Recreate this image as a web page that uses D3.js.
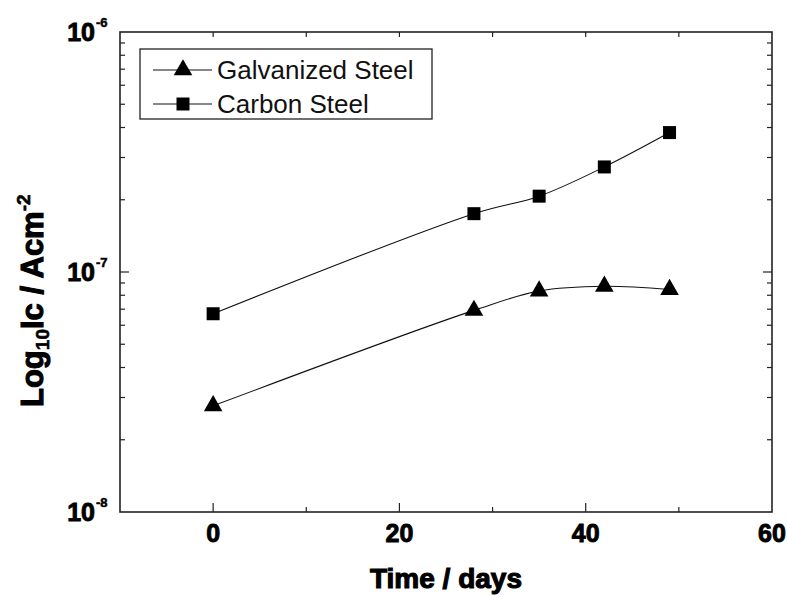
<!DOCTYPE html>
<html>
<head>
<meta charset="utf-8">
<script src="https://cdn.jsdelivr.net/npm/d3@7"></script>
<style>
  html, body { margin: 0; padding: 0; background: #fff; }
  svg { display: block; }
</style>
</head>
<body>
<svg id="chart" width="788" height="596"></svg>
<script>
// ---- data ----
const days = [0, 28, 35, 42, 49];
const galvanized = [2.77e-8, 6.92e-8, 8.33e-8, 8.72e-8, 8.45e-8];
const carbon = [6.7e-8, 1.75e-7, 2.07e-7, 2.74e-7, 3.81e-7];
const seriesNames = ["Galvanized Steel", "Carbon Steel"];
const xTickLabels = [0, 20, 40, 60];
const yTickExponents = [-8, -7, -6];
const xTitle = "Time / days";

// ---- layout ----
const svg = d3.select("#chart");
const L = 120, R = 772, T = 32, B = 512;
const x = d3.scaleLinear().domain([-10, 60]).range([L, R]);
const y = d3.scaleLog().domain([1e-8, 1e-6]).range([B, T]);
const font = "'Liberation Sans', Arial, sans-serif";

// ticks
const g = svg.append("g");
const stroke = "#222";
const xMajor = [0, 20, 40];
const xMinor = [10, 30, 50];
xMajor.forEach(v => g.append("line").attr("x1", x(v)).attr("x2", x(v)).attr("y1", B).attr("y2", B - 9).attr("stroke", stroke).attr("stroke-width", 1.2));
xMinor.forEach(v => g.append("line").attr("x1", x(v)).attr("x2", x(v)).attr("y1", B).attr("y2", B - 5).attr("stroke", stroke).attr("stroke-width", 1.2));
xMajor.concat(xMinor).forEach(v => g.append("line").attr("x1", x(v)).attr("x2", x(v)).attr("y1", T).attr("y2", T + 5).attr("stroke", stroke).attr("stroke-width", 1.2));
const yMinor = [];
[-8, -7].forEach(e => { for (let k = 2; k <= 9; k++) yMinor.push(k * Math.pow(10, e)); });
yMinor.forEach(v => {
  g.append("line").attr("x1", L).attr("x2", L + 5).attr("y1", y(v)).attr("y2", y(v)).attr("stroke", stroke).attr("stroke-width", 1.2);
  g.append("line").attr("x1", R).attr("x2", R - 5).attr("y1", y(v)).attr("y2", y(v)).attr("stroke", stroke).attr("stroke-width", 1.2);
});
[1e-7].forEach(v => {
  g.append("line").attr("x1", L).attr("x2", L + 9).attr("y1", y(v)).attr("y2", y(v)).attr("stroke", stroke).attr("stroke-width", 1.2);
  g.append("line").attr("x1", R).attr("x2", R - 9).attr("y1", y(v)).attr("y2", y(v)).attr("stroke", stroke).attr("stroke-width", 1.2);
});

// frame
g.append("rect").attr("x", L).attr("y", T).attr("width", R - L).attr("height", B - T)
  .attr("fill", "none").attr("stroke", stroke).attr("stroke-width", 1.6);

// x tick labels
g.selectAll(".xl").data(xTickLabels).enter().append("text")
  .attr("x", d => x(d)).attr("y", B + 30)
  .attr("text-anchor", "middle")
  .attr("font-family", font).attr("font-weight", "bold").attr("font-size", 25)
  .attr("stroke", "#000").attr("stroke-width", 0.9)
  .text(d => d);

// y tick labels
yTickExponents.forEach(e => {
  g.append("text")
    .attr("x", 95).attr("y", y(Math.pow(10, e)) + 9)
    .attr("text-anchor", "end")
    .attr("font-family", font).attr("font-weight", "bold").attr("font-size", 25)
    .attr("stroke", "#000").attr("stroke-width", 0.9)
    .text("10");
  g.append("text")
    .attr("x", 96).attr("y", y(Math.pow(10, e)) - 5)
    .attr("font-family", font).attr("font-weight", "bold").attr("font-size", 13)
    .attr("stroke", "#000").attr("stroke-width", 0.5)
    .text("-" + Math.abs(e));
});

// axis titles
g.append("text")
  .attr("x", (L + R) / 2).attr("y", 588)
  .attr("text-anchor", "middle")
  .attr("font-family", font).attr("font-weight", "bold").attr("font-size", 28)
  .attr("stroke", "#000").attr("stroke-width", 1.1)
  .text(xTitle);

const yt = g.append("text")
  .attr("transform", "translate(43,407) rotate(-90)")
  .attr("font-family", font).attr("font-weight", "bold").attr("font-size", 31)
  .attr("stroke", "#000").attr("stroke-width", 1.1);
yt.append("tspan").text("Log");
yt.append("tspan").attr("font-size", 19).attr("dy", 6).attr("stroke-width", 0.6).text("10");
yt.append("tspan").attr("dy", -6).text("Ic / Acm");
yt.append("tspan").attr("font-size", 19).attr("dy", -13).attr("stroke-width", 0.6).text("-2");

// lines
const line = d3.line().x(d => x(d[0])).y(d => y(d[1])).curve(d3.curveCatmullRom.alpha(0.5));
const gData = days.map((d, i) => [d, galvanized[i]]);
const cData = days.map((d, i) => [d, carbon[i]]);
[gData, cData].forEach(data => {
  g.append("path").datum(data).attr("d", line).attr("fill", "none").attr("stroke", "#111").attr("stroke-width", 1.1);
});

const tri = d3.symbol().type(d3.symbolTriangle).size(150);
const sq = d3.symbol().type(d3.symbolSquare).size(169);
g.selectAll(".tri").data(gData).enter().append("path")
  .attr("d", tri).attr("transform", d => `translate(${x(d[0])},${y(d[1])})`).attr("fill", "#000");
g.selectAll(".sq").data(cData).enter().append("path")
  .attr("d", sq).attr("transform", d => `translate(${x(d[0])},${y(d[1])})`).attr("fill", "#000");

// legend
const lg = g.append("g");
lg.append("rect").attr("x", 140).attr("y", 49).attr("width", 292).attr("height", 70)
  .attr("fill", "#fff").attr("stroke", stroke).attr("stroke-width", 1.3);
const rows = [{ name: seriesNames[0], sym: tri, y: 70 }, { name: seriesNames[1], sym: sq, y: 104 }];
rows.forEach(r => {
  lg.append("line").attr("x1", 153).attr("x2", 212).attr("y1", r.y).attr("y2", r.y).attr("stroke", "#111").attr("stroke-width", 1.1);
  lg.append("path").attr("d", r.sym).attr("transform", `translate(183,${r.y})`).attr("fill", "#000");
  lg.append("text").attr("x", 217).attr("y", r.y + 9)
    .attr("font-family", font).attr("font-size", 26).attr("fill", "#111")
    .text(r.name);
});
</script>
</body>
</html>
